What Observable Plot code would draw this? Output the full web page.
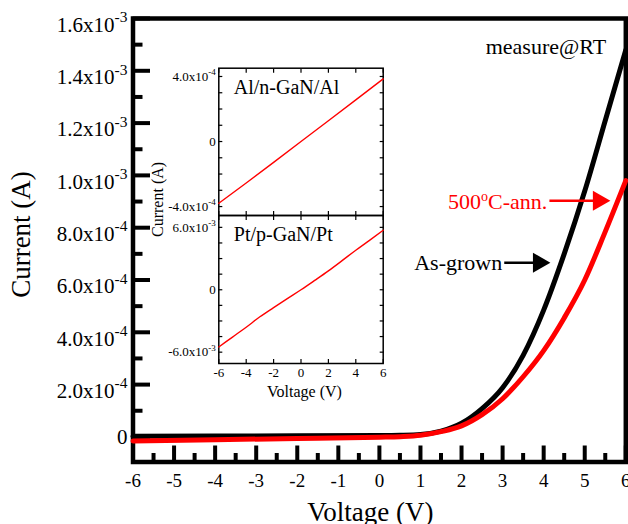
<!DOCTYPE html>
<html><head><meta charset="utf-8">
<script src="https://cdn.jsdelivr.net/npm/d3@7"></script>
<script src="https://cdn.jsdelivr.net/npm/@observablehq/plot@0.6"></script>
<style>
body{margin:0;background:#fff}
#wrap{position:relative;width:628px;height:524px;overflow:hidden;background:#fff}
#wrap svg{position:absolute;overflow:visible;background:transparent}
#wrap svg, #wrap svg text, #wrap svg tspan{font-family:"Liberation Serif", "Times New Roman", serif !important}
</style></head><body><div id="wrap"></div>
<script>
// ---- main chart data ----
const voltage   = [-6, -4, -2, 0, 0.5, 1, 1.5, 2, 2.5, 3, 3.5, 4, 4.5, 5, 5.5, 6];
const asGrown   = [2e-6, 3e-6, 4e-6, 5e-6, 6e-6, 9e-6, 2.2e-5, 5.2e-5, 1.08e-4, 1.88e-4, 3.12e-4, 4.85e-4, 7.0e-4, 9.4e-4, 1.21e-3, 1.48e-3];
const annealed  = [-1.6e-5, -1.1e-5, -6e-6, -1e-6, 1e-6, 6e-6, 2.0e-5, 4.2e-5, 8.5e-5, 1.46e-4, 2.3e-4, 3.3e-4, 4.55e-4, 6.0e-4, 7.85e-4, 9.8e-4];
const xMajorTicks = [-6, -5, -4, -3, -2, -1, 0, 1, 2, 3, 4, 5, 6];
const xMinorTicks = [-5.5, -4.5, -3.5, -2.5, -1.5, -0.5, 0.5, 1.5, 2.5, 3.5, 4.5, 5.5];
const yMajorTicks = [0, 2e-4, 4e-4, 6e-4, 8e-4, 1e-3, 1.2e-3, 1.4e-3, 1.6e-3];
const yMinorTicks = [1e-4, 3e-4, 5e-4, 7e-4, 9e-4, 1.1e-3, 1.3e-3, 1.5e-3];
// annotations
const noteText  = ["measure@RT", "500^{o}C-ann.", "As-grown"];
const noteV     = [5.52, 4.09, 2.99];
const noteI     = [1.49e-3, 9.0e-4, 6.66e-4];
const noteColor = ["black", "red", "black"];
const arrowStartV = [4.14, 3.04];
const arrowHeadV  = [5.34, 3.88];
const arrowI      = [9.03e-4, 6.66e-4];
const arrowColor  = ["red", "black"];
// ---- inset data ----
const alVoltage = [-6, -4, -2, 0, 2, 4, 6];
const alCurrent = [-3.8e-4, -2.55e-4, -1.28e-4, 0, 1.28e-4, 2.56e-4, 3.85e-4];
const ptVoltage = [-6, -5, -4, -3, -2, -1, 0, 1, 2, 3, 4, 5, 6];
const ptCurrent = [-5.5e-3, -4.55e-3, -3.6e-3, -2.6e-3, -1.72e-3, -0.85e-3, 0, 0.9e-3, 1.82e-3, 2.8e-3, 3.8e-3, 4.75e-3, 5.72e-3];
const insetXTicks = [-6, -4, -2, 0, 2, 4, 6];
const alYTicks = [-4e-4, -3e-4, -2e-4, -1e-4, 0, 1e-4, 2e-4, 3e-4, 4e-4];
const alYLabels = [-4e-4, 0, 4e-4];
const ptYTicks = [-6e-3, -4.5e-3, -3e-3, -1.5e-3, 0, 1.5e-3, 3e-3, 4.5e-3, 6e-3];
const ptYLabels = [-6e-3, 0, 6e-3];

const FONT = "Liberation Serif";
const sci = d => {
  if (d === 0) return "0";
  const e = Math.floor(Math.log10(Math.abs(d)) + 1e-9);
  return `${(d / 10 ** e).toFixed(1)}x10^{${e}}`;
};
const NS = "http://www.w3.org/2000/svg";
function supify(root, selector, supSize, rise, shift) {
  root.querySelectorAll(selector).forEach(t => {
    const s = t.textContent;
    const m = s.match(/^(.*?)\^\{([^}]*)\}(.*)$/);
    if (!m) return;
    t.textContent = "";
    const a = document.createElementNS(NS, "tspan"); a.textContent = m[1];
    const b = document.createElementNS(NS, "tspan"); b.textContent = m[2];
    b.setAttribute("font-size", supSize); b.setAttribute("dy", -rise);
    t.append(a, b);
    if (m[3]) {
      const c = document.createElementNS(NS, "tspan"); c.textContent = m[3];
      c.setAttribute("dy", rise); t.append(c);
    }
    if (shift) t.setAttribute("transform", ((t.getAttribute("transform") || "") + ` translate(0,${shift})`).trim());
  });
}
const none = () => "";
const rows = (xs, ys) => xs.map((v, i) => ({v, c: ys[i]}));

const main = Plot.plot({
  width: 628, height: 524,
  marginLeft: 132.5, marginRight: 2.7, marginTop: 18, marginBottom: 62.5,
  x: {domain: [-6, 6]},
  y: {domain: [-9.6e-5, 1.6e-3]},
  color: {type: "identity"},
  style: {fontFamily: FONT, background: "transparent", overflow: "visible", color: "black"},
  marks: [
    Plot.axisX({ticks: xMajorTicks, tickSize: -16, tickPadding: 27.25, strokeWidth: 4, tickFormat: d => String(d), fontSize: 19, label: null}),
    Plot.axisX({ticks: xMinorTicks, tickSize: -8.5, strokeWidth: 4, tickFormat: none, label: null}),
    Plot.axisY({ticks: yMajorTicks, tickSize: -17.5, tickPadding: 23, strokeWidth: 4, tickFormat: sci, fontSize: 21, label: null}),
    Plot.axisY({ticks: yMinorTicks, tickSize: -10, strokeWidth: 4, tickFormat: none, label: null}),
    Plot.frame({strokeWidth: 4.5}),
    Plot.line(rows(voltage, asGrown), {x: "v", y: "c", stroke: "black", strokeWidth: 5, curve: "monotone-x"}),
    Plot.line(rows(voltage, annealed), {x: "v", y: "c", stroke: "red", strokeWidth: 5, curve: "monotone-x"}),
    Plot.link(arrowI, {x1: arrowStartV, x2: arrowHeadV, y1: arrowI, y2: arrowI, stroke: arrowColor, strokeWidth: 2.5}),
    Plot.dot(arrowI, {x: arrowHeadV, y: arrowI, symbol: "triangle", r: 7.5, rotate: 90, fill: arrowColor, stroke: "none"}),
    Plot.text(noteText, {x: noteV, y: noteI, fill: noteColor, textAnchor: "end", lineAnchor: "middle", fontSize: 22}),
    Plot.text(["Voltage (V)"], {frameAnchor: "bottom", textAnchor: "middle", lineAnchor: "middle", dx: -9, dy: 50, fontSize: 27}),
    Plot.text(["Current (A)"], {frameAnchor: "left", textAnchor: "middle", lineAnchor: "middle", rotate: -90, dx: -112, dy: -5.75, fontSize: 27})
  ]
});
supify(main, 'g[aria-label="y-axis tick label"] text', 15.5, 9.5, 6.5);
supify(main, 'g[aria-label="text"] text', 14, 7.5, 0);

function insetAxes(yTicks, yLabels, showX) {
  return [
    Plot.frame({strokeWidth: 1.5}),
    Plot.axisX({anchor: "bottom", ticks: insetXTicks, tickSize: -4, strokeWidth: 1.2, tickFormat: none, label: null}),
    Plot.axisX({anchor: "top", ticks: insetXTicks, tickSize: -4, strokeWidth: 1.2, tickFormat: none, label: null}),
    Plot.axisY({anchor: "left", ticks: yTicks, tickSize: -4, strokeWidth: 1.2, tickFormat: none, label: null}),
    Plot.axisY({anchor: "right", ticks: yTicks, tickSize: -4, strokeWidth: 1.2, tickFormat: none, label: null}),
    Plot.axisY({anchor: "left", ticks: yLabels, tickSize: 0, tickPadding: 3, tickFormat: sci, fontSize: 13, label: null}),
    showX ? Plot.axisX({anchor: "bottom", ticks: insetXTicks, tickSize: 0, tickPadding: 4, tickFormat: d => String(d), fontSize: 13, label: null}) : null
  ];
}

const insetA = Plot.plot({
  width: 239, height: 160, marginLeft: 68.3, marginRight: 6.3, marginTop: 7.7, marginBottom: 5,
  x: {domain: [-6, 6]}, y: {domain: [-4.55e-4, 4.51e-4]},
  style: {fontFamily: FONT, background: "transparent", overflow: "visible", color: "black"},
  marks: [
    ...insetAxes(alYTicks, alYLabels, false),
    Plot.line(rows(alVoltage, alCurrent), {x: "v", y: "c", stroke: "red", strokeWidth: 1.4}),
    Plot.text(["Al/n-GaN/Al"], {frameAnchor: "top-left", textAnchor: "start", lineAnchor: "middle", dx: 15, dy: 19, fontSize: 20}),
    Plot.text(["Current (A)"], {frameAnchor: "left", textAnchor: "middle", lineAnchor: "middle", rotate: -90, dx: -61.3, dy: 57.6, fontSize: 16})
  ]
});
supify(insetA, 'g[aria-label="y-axis tick label"] text', 9, 5.5, 0);

const insetB = Plot.plot({
  width: 239, height: 193, marginLeft: 68.3, marginRight: 6.3, marginTop: 5, marginBottom: 40,
  x: {domain: [-6, 6]}, y: {domain: [-7.09e-3, 7.14e-3]},
  style: {fontFamily: FONT, background: "transparent", overflow: "visible", color: "black"},
  marks: [
    ...insetAxes(ptYTicks, ptYLabels, true),
    Plot.line(rows(ptVoltage, ptCurrent), {x: "v", y: "c", stroke: "red", strokeWidth: 1.4, curve: "monotone-x"}),
    Plot.text(["Pt/p-GaN/Pt"], {frameAnchor: "top-left", textAnchor: "start", lineAnchor: "middle", dx: 15, dy: 19, fontSize: 20}),
    Plot.text(["Voltage (V)"], {frameAnchor: "bottom", textAnchor: "middle", lineAnchor: "middle", dx: 3.5, dy: 28, fontSize: 16})
  ]
});
supify(insetB, 'g[aria-label="y-axis tick label"] text', 9, 5.5, 0);

const wrap = document.getElementById("wrap");
main.style.left = "0px"; main.style.top = "0px";
insetA.style.left = "150px"; insetA.style.top = "60px";
insetB.style.left = "150px"; insetB.style.top = "210px";
wrap.append(main, insetA, insetB);
</script></body></html>
